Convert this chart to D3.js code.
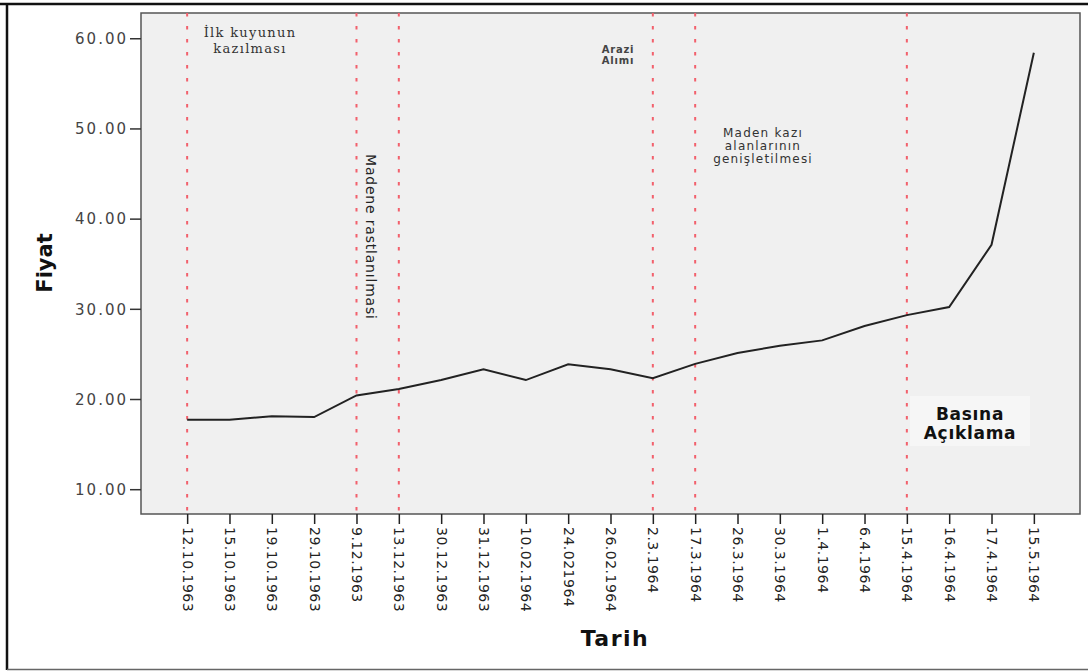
<!DOCTYPE html>
<html>
<head>
<meta charset="utf-8">
<script src="https://cdn.jsdelivr.net/npm/d3@7"></script>
<style>
  body { margin: 0; background: white; }
  text { font-family: "DejaVu Sans", sans-serif; }
</style>
</head>
<body>
<div class="plot"></div>
<script>
// Data
var dates = ["12.10.1963", "15.10.1963", "19.10.1963", "29.10.1963", "9.12.1963",
             "13.12.1963", "30.12.1963", "31.12.1963", "10.02.1964", "24.021964",
             "26.02.1964", "2.3.1964", "17.3.1964", "26.3.1964", "30.3.1964",
             "1.4.1964", "6.4.1964", "15.4.1964", "16.4.1964", "17.4.1964", "15.5.1964"];
var prices = [17.7, 17.7, 18.1, 18.0, 20.4,
              21.1, 22.1, 23.3, 22.1, 23.85,
              23.3, 22.3, 23.9, 25.1, 25.9,
              26.5, 28.1, 29.3, 30.2, 37.1, 58.4];
var yTicks = [10, 20, 30, 40, 50, 60];
var eventDates = ["12.10.1963", "9.12.1963", "13.12.1963", "2.3.1964", "17.3.1964", "15.4.1964"];

var outerWidth = 1088, outerHeight = 671;
var margin = {top: 13, right: 8, bottom: 157, left: 141},
    width = 1080 - margin.left,
    height = 514 - margin.top;

var svg = d3.select(".plot").append("svg")
    .attr("width", outerWidth)
    .attr("height", outerHeight);

svg.append("rect")
    .attr("width", "100%")
    .attr("height", "100%")
    .attr("fill", "white");

// Outer frame
svg.append("line").attr("x1", 0).attr("x2", outerWidth).attr("y1", 4).attr("y2", 4)
    .attr("stroke", "#111").attr("stroke-width", 2.5);
svg.append("line").attr("x1", 7).attr("x2", 7).attr("y1", 3).attr("y2", 670)
    .attr("stroke", "#111").attr("stroke-width", 2.5);
svg.append("line").attr("x1", 7).attr("x2", outerWidth).attr("y1", 669.5).attr("y2", 669.5)
    .attr("stroke", "#666").attr("stroke-width", 1.5);

var canvas = svg.append("g")
    .attr("transform", "translate(" + margin.left + "," + margin.top + ")");

var xScale = d3.scalePoint().domain(dates).range([0, width]).padding(1.09);
var yScale = d3.scaleLinear().domain([7.25, 62.8]).range([height, 0]);

// Plot background
canvas.append("rect")
    .attr("width", width)
    .attr("height", height)
    .attr("fill", "#f0f0f0")
    .attr("stroke", "#555")
    .attr("stroke-width", 1.5);

// Event lines
canvas.selectAll(".event")
    .data(eventDates)
    .enter().append("line")
    .attr("class", "event")
    .attr("x1", d => xScale(d)).attr("x2", d => xScale(d))
    .attr("y1", 0).attr("y2", height)
    .attr("stroke", "#f2606c")
    .attr("stroke-width", 2)
    .attr("stroke-dasharray", "3.5,9.5");

// Price line
var line = d3.line()
    .x((d, i) => xScale(dates[i]))
    .y(d => yScale(d));

canvas.append("path")
    .datum(prices)
    .attr("d", line)
    .attr("fill", "none")
    .attr("stroke", "#222")
    .attr("stroke-width", 2);

// Axes
var yAxis = d3.axisLeft(yScale).tickValues(yTicks).tickFormat(d3.format(".2f")).tickSize(11).tickSizeOuter(0);
var gy = canvas.append("g").call(yAxis);
gy.select(".domain").remove();
gy.selectAll("line").attr("stroke", "#333").attr("stroke-width", 1.5);
gy.selectAll("text").attr("font-size", 15).attr("fill", "#444")
    .attr("letter-spacing", 2).attr("x", -13).attr("dy", "0.35em");

var xAxis = d3.axisBottom(xScale).tickSize(10).tickSizeOuter(0);
var gx = canvas.append("g")
    .attr("transform", "translate(0," + height + ")")
    .call(xAxis);
gx.select(".domain").remove();
gx.selectAll("line").attr("stroke", "#222").attr("stroke-width", 1.5);
gx.selectAll("text")
    .attr("font-size", 14)
    .attr("fill", "#222")
    .attr("letter-spacing", 0.5)
    .attr("transform", "rotate(90)")
    .attr("x", 13)
    .attr("y", 0)
    .attr("dy", "0.35em")
    .attr("text-anchor", "start");

// Axis titles
svg.append("text")
    .attr("transform", "translate(52,263) rotate(-90)")
    .attr("text-anchor", "middle")
    .attr("font-size", 21)
    .attr("font-weight", "bold")
    .attr("fill", "#111")
    .text("Fiyat");

svg.append("text")
    .attr("x", 615)
    .attr("y", 646)
    .attr("text-anchor", "middle")
    .attr("font-size", 22)
    .attr("font-weight", "bold")
    .attr("letter-spacing", 1.5)
    .attr("fill", "#111")
    .text("Tarih");

// Annotations
function multiline(x, y, lines, size, lh, opts) {
    var t = svg.append("text")
        .attr("text-anchor", "middle")
        .attr("font-size", size)
        .attr("fill", opts.fill || "#333")
        .attr("font-weight", opts.weight || "normal")
        .attr("letter-spacing", opts.spacing || 0)
        .style("font-family", opts.family || null);
    lines.forEach((s, i) => {
        t.append("tspan").attr("x", x).attr("y", y + i * lh).text(s);
    });
}

multiline(250, 37, ["İlk kuyunun", "kazılması"], 13, 16,
    {family: "'DejaVu Serif', serif", spacing: 1.3});
multiline(618, 53, ["Arazi", "Alımı"], 10, 11, {weight: "bold", fill: "#444", spacing: 0.8});
multiline(763, 137, ["Maden kazı", "alanlarının", "genişletilmesi"], 12, 13,
    {spacing: 1.2, fill: "#333"});

svg.append("text")
    .attr("transform", "translate(366,154) rotate(90)")
    .attr("font-size", 14)
    .attr("letter-spacing", 0.8)
    .attr("fill", "#222")
    .text("Madene rastlanılmasi");

svg.append("rect")
    .attr("x", 910).attr("y", 396).attr("width", 120).attr("height", 50)
    .attr("fill", "#f6f6f6");
multiline(970, 420, ["Basına", "Açıklama"], 17, 19, {weight: "bold", fill: "#111", spacing: 0.7});
</script>
</body>
</html>
